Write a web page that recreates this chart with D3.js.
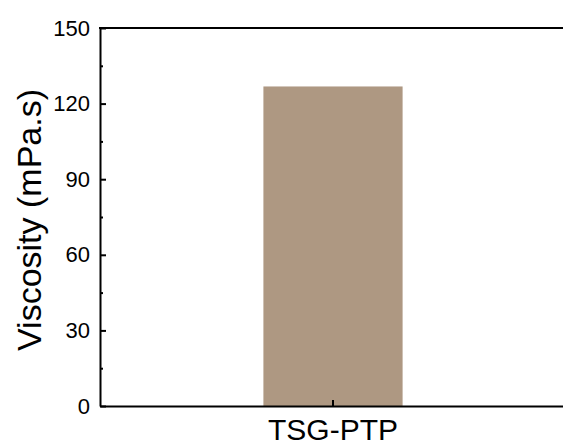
<!DOCTYPE html>
<html>
<head>
<meta charset="utf-8">
<script src="https://cdn.jsdelivr.net/npm/d3@7"></script>
<style>
  html, body { margin: 0; background: #fff; overflow: hidden; }
  svg { display: block; }
  text { font-family: "Liberation Sans", Arial, sans-serif; fill: #000; }
</style>
</head>
<body>
<div id="chart"></div>
<script>
// data
var categories = ["TSG-PTP"];
var viscosity = [126.8];
var yTicks = [0, 30, 60, 90, 120, 150];
var yMinorTicks = [15, 45, 75, 105, 135];

// dimensions
var W = 563, H = 448;
var margin = {top: 28, right: -3, bottom: 42, left: 100},
    width = W - margin.left - margin.right,
    height = H - margin.top - margin.bottom;

var svg = d3.select("#chart")
  .append("svg")
    .attr("width", W)
    .attr("height", H)
  .append("g")
    .attr("transform", "translate(" + margin.left + "," + margin.top + ")");

var x = d3.scaleBand()
  .domain(categories)
  .range([0, width])
  .padding(0.54);

var y = d3.scaleLinear()
  .domain([0, 150])
  .range([height, 0]);

// bars
svg.selectAll("rect.bar")
  .data(categories)
  .enter()
  .append("rect")
    .attr("class", "bar")
    .attr("x", function(d) { return x(d); })
    .attr("y", function(d, i) { return y(viscosity[i]); })
    .attr("width", x.bandwidth())
    .attr("height", function(d, i) { return height - y(viscosity[i]); })
    .style("fill", "#ae9882");

// top frame line
svg.append("line")
  .attr("x1", -1).attr("x2", width)
  .attr("y1", 0).attr("y2", 0)
  .attr("stroke", "#000").attr("stroke-width", 2);

// Y axis (ticks inward)
var yAxis = svg.append("g")
  .call(d3.axisLeft(y).tickValues(yTicks).tickSize(-6).tickPadding(10).tickSizeOuter(0));
yAxis.select(".domain").attr("stroke-width", 2);
yAxis.selectAll(".tick line").attr("stroke-width", 2);
yAxis.selectAll("text").style("font-size", "22px");

svg.append("g")
  .call(d3.axisLeft(y).tickValues(yMinorTicks).tickSize(-3).tickFormat("").tickSizeOuter(0))
  .call(function(g) { g.select(".domain").remove(); })
  .selectAll(".tick line").attr("stroke-width", 2);

// X axis (ticks inward)
var xAxis = svg.append("g")
  .attr("transform", "translate(0," + height + ")")
  .call(d3.axisBottom(x).tickSize(-6).tickPadding(13).tickSizeOuter(0));
xAxis.select(".domain").attr("stroke-width", 2);
xAxis.selectAll(".tick line").attr("stroke-width", 2);
xAxis.selectAll("text").style("font-size", "30px");

// Y axis title
svg.append("text")
  .attr("transform", "rotate(-90)")
  .attr("x", -(220 - margin.top))
  .attr("y", 41 - margin.left)
  .attr("text-anchor", "middle")
  .style("font-size", "34px")
  .text("Viscosity (mPa.s)");
</script>
</body>
</html>
